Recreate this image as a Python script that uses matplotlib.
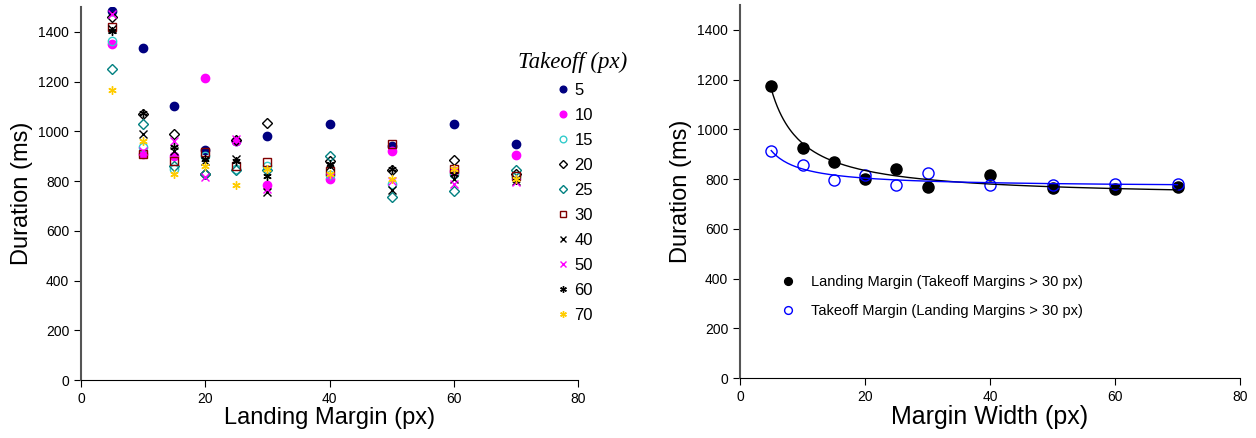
import numpy as np
import matplotlib
matplotlib.use('Agg')
import matplotlib.pyplot as plt

plt.rcParams['font.family'] = ['Liberation Sans', 'DejaVu Sans']

# Panel izquierdo: duracion por margen de aterrizaje, una serie por margen de despegue
landing = [5, 10, 15, 20, 25, 30, 40, 50, 60, 70]
takeoff = ['5', '10', '15', '20', '25', '30', '40', '50', '60', '70']
dur_5 = [1485, 1335, 1100, 925, 960, 980, 1030, 940, 1030, 950]
dur_10 = [1350, 910, 900, 1215, 960, 785, 810, 920, 840, 905]
dur_15 = [1365, 935, 850, 900, 850, 860, 825, 790, 830, 820]
dur_20 = [1460, 1070, 990, 830, 965, 1035, 880, 845, 885, 830]
dur_25 = [1250, 1030, 860, 830, 845, 845, 900, 735, 760, 845]
dur_30 = [1420, 910, 880, 915, 860, 875, 840, 950, 850, 820]
dur_40 = [1410, 990, 920, 880, 890, 755, 860, 765, 810, 800]
dur_50 = [1470, 920, 960, 815, 970, 770, 815, 800, 790, 795]
dur_60 = [1405, 1075, 935, 890, 880, 820, 870, 850, 830, 805]
dur_70 = [1165, 960, 830, 860, 785, 850, 830, 810, 850, 810]

# Panel derecho
margin = [5, 10, 15, 20, 25, 30, 40, 50, 60, 70]
landing_dur = [1175, 925, 870, 800, 840, 770, 815, 765, 760, 770]
takeoff_dur = [912, 855, 795, 815, 775, 825, 775, 775, 780, 780]

series = [dur_5, dur_10, dur_15, dur_20, dur_25, dur_30, dur_40, dur_50, dur_60, dur_70]
estilos = [
    dict(marker='o', color='#000080', mfc='#000080'),
    dict(marker='o', color='#FF00FF', mfc='#FF00FF'),
    dict(marker='o', color='#33CCCC', mfc='none'),
    dict(marker='D', color='black', mfc='none', ms=5),
    dict(marker='D', color='#008080', mfc='none', ms=5),
    dict(marker='s', color='#800000', mfc='none'),
    dict(marker='x', color='black', mfc='none'),
    dict(marker='x', color='#FF00FF', mfc='none'),
    dict(marker=(6, 2, 0), color='black', mfc='none'),
    dict(marker=(6, 2, 0), color='#FFCC00', mfc='none'),
]


def ajuste_hip(x, y):
    # y = a + b/x por minimos cuadrados
    x = np.asarray(x, float)
    y = np.asarray(y, float)
    A = np.column_stack([np.ones_like(x), 1.0 / x])
    (a, b), _, _, _ = np.linalg.lstsq(A, y, rcond=None)
    return lambda t: a + b / t


def estilo_ejes(ax):
    for s in ['top', 'right']:
        ax.spines[s].set_visible(False)
    ax.spines['left'].set_color('#555555')
    ax.spines['left'].set_linewidth(1.5)
    ax.spines['bottom'].set_color('black')
    ax.tick_params(axis='both', labelsize=10, direction='out', length=5)
    ax.set_xlim(0, 80)
    ax.set_ylim(0, 1500)
    ax.set_xticks([0, 20, 40, 60, 80])
    ax.set_yticks(range(0, 1401, 200))


fig = plt.figure(figsize=(12.56, 4.38), dpi=100)
ax1 = fig.add_axes([81 / 1256, 58 / 438, 497 / 1256, 373 / 438])
ax2 = fig.add_axes([740 / 1256, 60 / 438, 500 / 1256, 373 / 438])

for nombre, vals, st in zip(takeoff, series, estilos):
    ms = st.pop('ms', 6)
    ax1.plot(landing, vals, linestyle='none', ms=ms, mew=1, mec=st['color'], label=nombre, **st)

estilo_ejes(ax1)
ax1.set_xlabel('Landing Margin (px)', fontsize=17, labelpad=1)
ax1.set_ylabel('Duration (ms)', fontsize=17, labelpad=4)
leg1 = ax1.legend(loc='upper right', bbox_to_anchor=(1.13, 0.92), frameon=False, fontsize=12,
                  handletextpad=0.1, labelspacing=0.6, markerscale=0.8, handlelength=1.2)
leg1.set_title('Takeoff (px)', prop={'family': 'Liberation Serif', 'style': 'italic', 'size': 16.5})
leg1._legend_box.align = 'center'

# Panel derecho
xs = np.linspace(5, 70, 200)
f_land = ajuste_hip(margin, landing_dur)
f_take = ajuste_hip(margin, takeoff_dur)
ax2.plot(margin, landing_dur, 'o', color='black', ms=8, label='Landing Margin (Takeoff Margins > 30 px)')
ax2.plot(margin, takeoff_dur, 'o', color='#0000FF', mfc='none', ms=8, mew=1,
         label='Takeoff Margin (Landing Margins > 30 px)')
ax2.plot(xs, f_land(xs), color='black', lw=1)
ax2.plot(xs, f_take(xs), color='#0000FF', lw=1)

estilo_ejes(ax2)
ax2.set_xlabel('Margin Width (px)', fontsize=18, labelpad=1)
ax2.set_ylabel('Duration (ms)', fontsize=17, labelpad=4)
ax2.legend(loc='upper left', bbox_to_anchor=(0.04, 0.31), frameon=False, fontsize=10.5,
           markerscale=0.7, handletextpad=0.6, labelspacing=1.0)

plt.savefig('out.png', dpi=100)
plt.close()
